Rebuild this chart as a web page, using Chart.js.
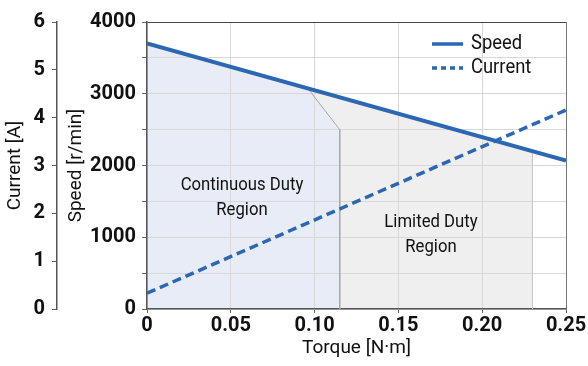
<!DOCTYPE html>
<html>
<head>
<meta charset="utf-8">
<script src="https://cdn.jsdelivr.net/npm/chart.js@4/dist/chart.umd.min.js"></script>
<style>
  body { margin: 0; background: #fff; }
  #wrap { width: 588px; height: 366px; }
</style>
</head>
<body>
<div id="wrap"><canvas id="chart"></canvas></div>
<script>
// line data
const torque = [0, 0.25];
const speed = [3700, 2070];
const current = [0.33, 4.16];
// duty regions (outline points)
const contTorque = [0, 0.096, 0.115, 0.115];
const contSpeed = [3700, 3074, 2500, 0];
const limTorque = [0.096, 0.23, 0.23];
const limSpeed = [3074, 2200, 0];

const xTicks = [0, 0.05, 0.10, 0.15, 0.20, 0.25];

const FONT = "Roboto, 'Liberation Sans', sans-serif";
const BLUE = '#2b67b3';

function pts(xs, ys) {
  return xs.map((x, i) => ({x: x, y: ys[i]}));
}

function narrowText(c, txt, x, y, sx) {
  c.save();
  c.translate(x, y);
  c.scale(sx, 1);
  c.fillText(txt, 0, 0);
  c.restore();
}

const labelsPlugin = {
  id: 'labels',
  afterDraw(chart) {
    const c = chart.ctx;
    c.save();
    c.fillStyle = '#111';
    c.font = '19px ' + FONT;
    c.textAlign = 'center';
    c.textBaseline = 'middle';
    narrowText(c, 'Continuous Duty', 242, 185, 0.88);
    narrowText(c, 'Region', 242, 210, 0.88);
    narrowText(c, 'Limited Duty', 431, 222, 0.88);
    narrowText(c, 'Region', 431, 247, 0.88);
    // legend
    c.textAlign = 'left';
    c.font = '20px ' + FONT;
    narrowText(c, 'Speed', 471, 44, 0.92);
    narrowText(c, 'Current', 471, 68, 0.92);
    c.strokeStyle = BLUE;
    c.lineWidth = 3.5;
    c.beginPath();
    c.moveTo(432, 44); c.lineTo(463, 44);
    c.stroke();
    c.setLineDash([5, 4]);
    c.beginPath();
    c.moveTo(432, 68); c.lineTo(463, 68);
    c.stroke();
    c.restore();
  }
};

new Chart(document.getElementById('chart'), {
  type: 'line',
  data: {
    datasets: [
      {
        label: 'Speed',
        data: pts(torque, speed),
        borderColor: BLUE,
        borderWidth: 4,
        pointRadius: 0,
        yAxisID: 'y',
        order: 0
      },
      {
        label: 'Current',
        data: pts(torque, current),
        borderColor: BLUE,
        borderWidth: 3.5,
        borderDash: [9, 5],
        pointRadius: 0,
        yAxisID: 'y1',
        order: 1
      },
      {
        label: 'Continuous',
        data: pts(contTorque, contSpeed),
        borderColor: '#a8a8a8',
        borderWidth: 1,
        backgroundColor: '#e8ecf6',
        fill: 'origin',
        pointRadius: 0,
        yAxisID: 'y',
        order: 2
      },
      {
        label: 'Limited',
        data: pts(limTorque, limSpeed),
        borderColor: '#c8c8c8',
        borderWidth: 1,
        backgroundColor: '#efefef',
        fill: 'origin',
        pointRadius: 0,
        yAxisID: 'y',
        order: 3
      }
    ]
  },
  options: {
    responsive: true,
    maintainAspectRatio: false,
    animation: false,
    layout: { padding: { top: 22, right: 22, left: 0, bottom: 0 } },
    plugins: {
      legend: { display: false },
      tooltip: { enabled: false },
      filler: { drawTime: 'beforeDraw' }
    },
    scales: {
      x: {
        type: 'linear',
        min: 0,
        max: 0.25,
        afterBuildTicks: (axis) => { axis.ticks = xTicks.map(v => ({value: v})); },
        afterFit: (axis) => { axis.height = 57; },
        ticks: {
          color: '#111',
          font: { family: FONT, size: 20, weight: 'bold' },
          padding: 1,
          maxRotation: 0,
          callback: (v) => v === 0 ? '0' : v.toFixed(2)
        },
        grid: {
          color: (ctx) => ctx.tick && ctx.tick.value >= 0.25 ? '#777' : '#d8d8d8',
          tickColor: '#666',
          tickLength: 4
        },
        border: { color: '#555', width: 1.5 },
        title: {
          display: true,
          text: 'Torque [N·m]',
          color: '#111',
          font: { family: FONT, size: 19 },
          padding: { top: 0, bottom: 6 }
        }
      },
      y: {
        type: 'linear',
        position: 'left',
        weight: 0,
        min: 0,
        max: 4000,
        afterFit: (axis) => { axis.width = 90; },
        ticks: {
          stepSize: 500,
          color: '#111',
          font: { family: FONT, size: 20, weight: 'bold' },
          padding: 6,
          callback: (v) => v % 1000 === 0 ? v : ''
        },
        grid: {
          color: (ctx) => ctx.tick && ctx.tick.value >= 4000 ? '#444' : '#d8d8d8',
          tickColor: '#666',
          tickLength: 5
        },
        border: { color: '#555', width: 1.5 },
        title: {
          display: true,
          text: 'Speed [r/min]',
          color: '#111',
          font: { family: FONT, size: 19 },
          padding: { top: 8, bottom: 0 }
        }
      },
      y1: {
        type: 'linear',
        position: 'left',
        weight: 1,
        min: 0,
        max: 6,
        afterFit: (axis) => { axis.width = 57; },
        ticks: {
          stepSize: 1,
          color: '#111',
          font: { family: FONT, size: 20, weight: 'bold' },
          padding: 7
        },
        grid: {
          drawOnChartArea: false,
          tickColor: '#666',
          tickLength: 5
        },
        border: { color: '#555', width: 1.5 },
        title: {
          display: true,
          text: 'Current [A]',
          color: '#111',
          font: { family: FONT, size: 19 },
          padding: { top: 4, bottom: 0 }
        }
      }
    }
  },
  plugins: [labelsPlugin]
});
</script>
</body>
</html>
